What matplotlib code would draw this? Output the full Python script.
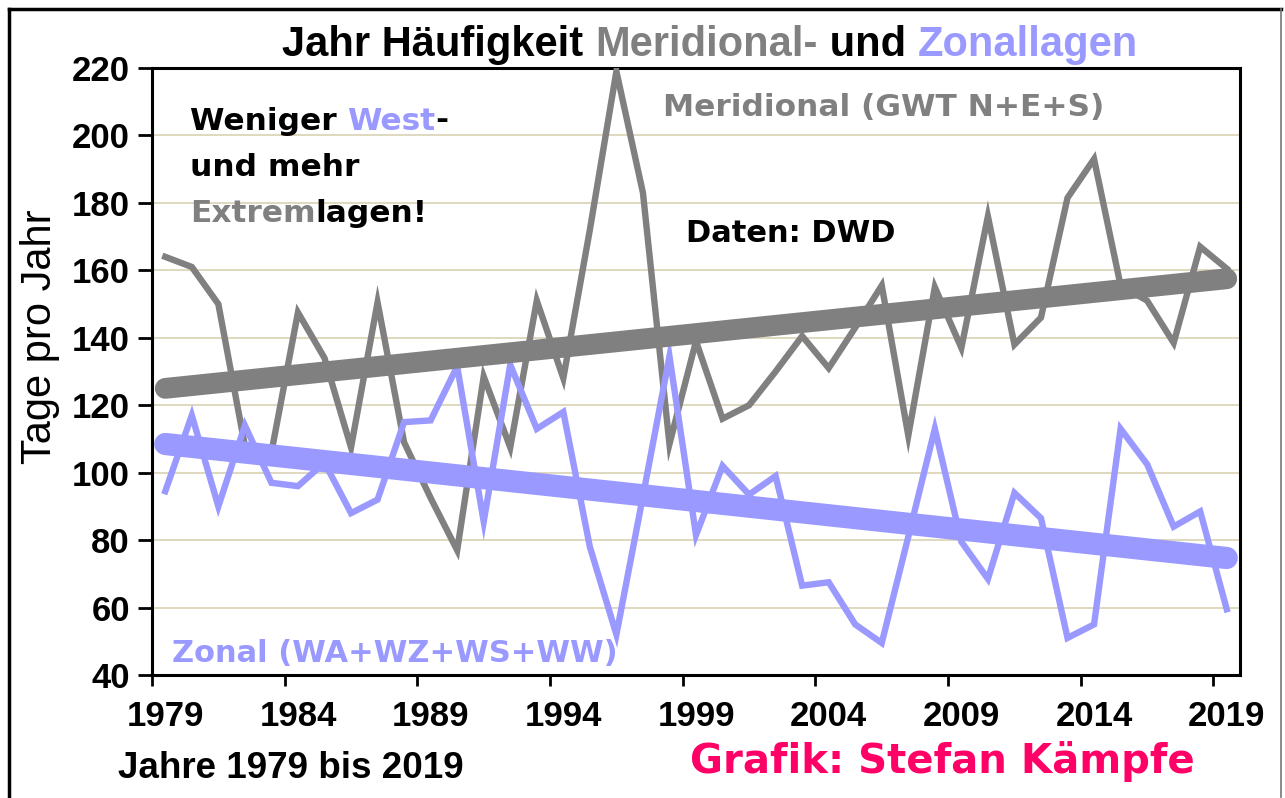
import numpy as np
import matplotlib
matplotlib.use("Agg")
import matplotlib.pyplot as plt
from matplotlib.lines import Line2D

years = list(range(1979, 2020))
meridional = [164, 161, 150, 108, 106, 147.5, 134, 107.5, 150.5, 109, 92.5, 77,
              128.5, 107.5, 151, 128, 172, 219, 183, 108.5, 139, 116, 120, 130,
              140.5, 131, 143, 155.5, 111, 155, 137, 176, 138, 146, 181.5, 193,
              155.5, 151, 138.5, 167, 160.5]
zonal = [94.5, 117, 90, 114, 97, 96, 103, 88, 92, 115, 115.5, 131.5,
         85.5, 132, 113, 118, 78, 52, 93, 134.5, 81.5, 102, 93.5, 99,
         66.5, 67.5, 55, 49.5, 81, 113, 79.5, 68.5, 94, 86.5, 51, 55,
         113, 102.5, 84, 88.5, 59.5]
trend_years = [1979, 2019]
trend_meridional = [125, 157.5]
trend_zonal = [108.5, 74.7]
yticks = list(range(40, 221, 20))
xtick_years = [1979, 1984, 1989, 1994, 1999, 2004, 2009, 2014, 2019]

GRAY = "#808080"
BLUE = "#9999FF"
PINK = "#FF0066"
W, H = 1285, 798

plt.rcParams['font.family'] = ['Liberation Sans', 'DejaVu Sans']
fig = plt.figure(figsize=(W / 100, H / 100), dpi=100)
fig.patch.set_facecolor("white")

def fx(x):
    return x / W

def fy(y):
    return 1 - y / H

ax = fig.add_axes([fx(152), fy(675), fx(1240) - fx(152), fy(68) - fy(675)])
ax.set_xlim(1978.5, 2019.5)
ax.set_ylim(40, 220)

for v in yticks[1:-1]:
    ax.axhline(v, color="#D9D2B4", lw=1.2, zorder=1)

ax.plot(years, meridional, color=GRAY, lw=4.6, zorder=3, solid_joinstyle="miter")
ax.plot(years, zonal, color=BLUE, lw=4.6, zorder=3, solid_joinstyle="miter")
ax.plot(trend_years, trend_meridional, color=GRAY, lw=15, zorder=4, solid_capstyle="round")
ax.plot(trend_years, trend_zonal, color=BLUE, lw=16, zorder=4, solid_capstyle="round")

ax.set_yticks(yticks)
ax.set_yticklabels([str(v) for v in yticks], fontsize=25, fontweight="bold")
ax.set_xticks([y - 0.5 for y in xtick_years])
ax.set_xticklabels([])
ax.set_xticks(xtick_years, minor=True)
ax.set_xticklabels([str(y) for y in xtick_years], minor=True, fontsize=25, fontweight="bold")
ax.tick_params(axis="x", which="minor", length=0, pad=18)
ax.tick_params(axis="x", which="major", length=8, width=2, direction="out")
ax.tick_params(axis="y", length=10, width=2, direction="out", pad=6)
for s in ax.spines.values():
    s.set_linewidth(2.2)
    s.set_color("black")

fig.text(fx(40), fy(337), "Tage pro Jahr", rotation=90, fontsize=30,
         ha="center", va="center")

fig.canvas.draw()
renderer = fig.canvas.get_renderer()

def colored_line(x, y, parts, size, weight="bold", family=None, center=False):
    texts = []
    total = 0
    for s, c in parts:
        kw = dict(fontsize=size, fontweight=weight, color=c, va="center", ha="left")
        if family:
            kw["family"] = family
        t = fig.text(0, fy(y), s, **kw)
        bb = t.get_window_extent(renderer)
        texts.append((t, bb.width))
        total += bb.width
    cx = x - total / 2 if center else x
    for t, w in texts:
        t.set_x(fx(cx))
        cx += w

colored_line(710, 45, [("Jahr Häufigkeit ", "black"), ("Meridional-", GRAY),
                       (" und ", "black"), ("Zonallagen", BLUE)], 30, center=True)

heavy = ["DejaVu Sans"]
colored_line(190, 121, [("Weniger ", "black"), ("West", BLUE), ("-", "black")], 22.5, family=heavy)
colored_line(190, 168, [("und mehr", "black")], 22.5, family=heavy)
colored_line(190, 214, [("Extrem", GRAY), ("lagen!", "black")], 22.5, family=heavy)
colored_line(663, 108, [("Meridional (GWT N+E+S)", GRAY)], 22.5, family=heavy)
colored_line(686, 234, [("Daten: DWD", "black")], 22, family=heavy)
colored_line(172, 653, [("Zonal (WA+WZ+WS+WW)", BLUE)], 22, family=heavy)
colored_line(118, 768, [("Jahre 1979 bis 2019", "black")], 26.5)
colored_line(690, 762, [("Grafik: Stefan Kämpfe", PINK)], 29, family=heavy)

# outer frame
fig.add_artist(Line2D([fx(9), fx(1281)], [fy(9), fy(9)], color="black", lw=2.5))
fig.add_artist(Line2D([fx(9), fx(9)], [fy(9), fy(797)], color="black", lw=2.5))
fig.add_artist(Line2D([fx(1281), fx(1281)], [fy(9), fy(797)], color="#777777", lw=1.2))

fig.savefig("out.png", dpi=100, facecolor="white")
